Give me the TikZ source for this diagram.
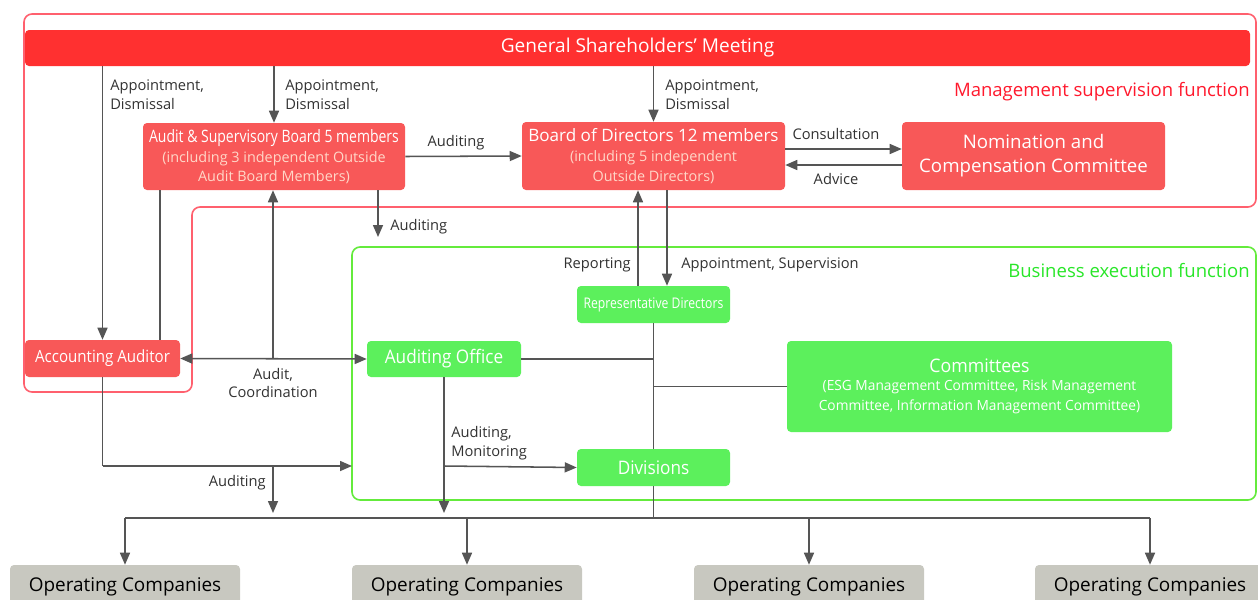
\documentclass[tikz,border=0pt]{standalone}
\usepackage{fontspec}
\usepackage{graphicx}
\setmainfont{Open Sans}
\usetikzlibrary{arrows.meta}
\newdimen\pxu \pxu=0.75pt
\definecolor{gsmred}{RGB}{255,48,48}
\definecolor{boxred}{RGB}{248,88,88}
\definecolor{boxgreen}{RGB}{92,240,92}
\definecolor{boxgray}{RGB}{200,200,192}
\definecolor{linegray}{RGB}{85,85,85}
\definecolor{regred}{RGB}{255,96,110}
\definecolor{reggreen}{RGB}{100,235,60}
\definecolor{txtred}{RGB}{255,25,45}
\definecolor{txtgreen}{RGB}{40,230,40}
\definecolor{subpink}{RGB}{255,215,200}
\definecolor{labelgray}{RGB}{50,50,50}
\newcommand{\fLbl}{\fontsize{11}{14.2}\selectfont}
\newcommand{\fTitle}{\fontsize{12.8}{15}\selectfont}
\newcommand{\fSub}{\fontsize{10.8}{14.2}\selectfont}
\begin{document}
\begin{tikzpicture}[x=0.75pt,y=-0.75pt,
  basebox/.style={rectangle, rounded corners=4\pxu, inner sep=0pt, align=center, text=white},
  gsmbox/.style={basebox, fill=gsmred},
  redbox/.style={basebox, fill=boxred},
  greenbox/.style={basebox, fill=boxgreen},
  graybox/.style={basebox, fill=boxgray, text=black},
  conn/.style={draw=linegray, line width=1.15pt},
  arr/.style={conn, -{Triangle[length=9pt,width=7.5pt]}},
  arrtwo/.style={conn, {Triangle[length=9pt,width=7.5pt]}-{Triangle[length=9pt,width=7.5pt]}},
  lbl/.style={inner sep=0pt, text=labelgray, font=\fLbl},
  region/.style={line width=1.2pt, rounded corners=8\pxu}
]
\useasboundingbox (0,0) rectangle (1258,600);
\clip (0,0) rectangle (1258,600);
\fill[white] (0,0) rectangle (1258,600);

% regions
\draw[region, draw=regred] (1256,207) -- (192,207) -- (192,392) -- (24,392) -- (24,14) -- (1256,14) -- cycle;
\draw[region, draw=reggreen] (352,247) rectangle (1256,500);

% nodes
\node[gsmbox, minimum width=1225\pxu, minimum height=36\pxu, font=\fontsize{14.3}{16}\selectfont] (gsm) at (637.5,48) {General Shareholders' Meeting};
\node[redbox, minimum width=262\pxu, minimum height=67\pxu] (asb) at (274,156.5)
  {\fTitle\scalebox{0.82}[1]{Audit \& Supervisory Board 5 members}\\[3pt]
   \fSub\color{subpink}(including 3 independent Outside\\[2.5pt]
   \fSub\color{subpink}Audit Board Members)};
\node[redbox, minimum width=263\pxu, minimum height=68\pxu] (bod) at (653.5,156)
  {\fTitle Board of Directors 12 members\\[3pt]
   \fSub\color{subpink}(including 5 independent\\[2.5pt]
   \fSub\color{subpink}Outside Directors)};
\node[redbox, minimum width=263\pxu, minimum height=68\pxu, font=\fontsize{14}{18}\selectfont] (ncc) at (1033.5,156)
  {Nomination and\\Compensation Committee};
\node[redbox, minimum width=155\pxu, minimum height=37\pxu, font=\fontsize{12.6}{14}\selectfont] (aa) at (102.5,358.5) {\scalebox{0.9}[1]{Accounting Auditor}};
\node[greenbox, minimum width=154\pxu, minimum height=36\pxu, font=\fontsize{14}{16}\selectfont] (ao) at (444,359) {\scalebox{0.92}[1]{Auditing Office}};
\node[greenbox, minimum width=153\pxu, minimum height=37\pxu, font=\fontsize{11}{14}\selectfont] (rd) at (653.5,304.5) {\scalebox{0.83}[1]{Representative Directors}};
\node[greenbox, minimum width=385\pxu, minimum height=91\pxu] (cm) at (979.5,386.5)
  {\fontsize{14}{17}\selectfont\scalebox{0.95}[1]{Committees}\\[1.5pt]
   \fontsize{10.5}{14.5}\selectfont\scalebox{0.98}[1]{(ESG Management Committee, Risk Management}\\[3pt]
   \fontsize{10.5}{14.5}\selectfont\scalebox{0.98}[1]{Committee, Information Management Committee)}};
\node[greenbox, minimum width=153\pxu, minimum height=37\pxu, font=\fontsize{14}{16}\selectfont] (dv) at (653.5,467.5) {\scalebox{0.92}[1]{Divisions}};
\node[graybox, minimum width=230\pxu, minimum height=44\pxu, font=\fontsize{14.2}{16}\selectfont] (oca) at (125,587) {Operating Companies};
\node[graybox, minimum width=230\pxu, minimum height=44\pxu, font=\fontsize{14.2}{16}\selectfont] (ocb) at (467,587) {Operating Companies};
\node[graybox, minimum width=230\pxu, minimum height=44\pxu, font=\fontsize{14.2}{16}\selectfont] (occ) at (809,587) {Operating Companies};
\node[graybox, minimum width=230\pxu, minimum height=44\pxu, font=\fontsize{14.2}{16}\selectfont] (ocd) at (1150,587) {Operating Companies};

% coordinates
\coordinate (jc) at (273,358.5);
\coordinate (a3) at (378,237);
\coordinate (aaturn) at (102.5,466);
\coordinate (gl) at (352,466);
\coordinate (jb) at (273,466);
\coordinate (jbend) at (273,513);
\coordinate (aoturn) at (444,466);
\coordinate (aoend) at (444,513);
\coordinate (busl) at (125,518);
\coordinate (busr) at (1150,518);
\coordinate (busm) at (653.5,518);

% connectors
\draw[arr] (gsm.south -| aa.north) -- (aa.north);
\draw[arr] (gsm.south -| asb.north) -- (asb.north);
\draw[arr] (gsm.south -| bod.north) -- (bod.north);
\draw[arr] (asb.east) -- (bod.west);
\draw[arr] (bod.east |- 0,149) -- (ncc.west |- 0,149);
\draw[arr] (ncc.west |- 0,165) -- (bod.east |- 0,165);
\draw[conn] (asb.south -| 160,0) -- (aa.north -| 160,0);
\draw[arr] (jc) -- (asb.south -| jc);
\draw[arrtwo] (aa.east) -- (ao.west);
\draw[arr] (asb.south -| a3) -- (a3);
\draw[arr] (bod.south -| 667,0) -- (rd.north -| 667,0);
\draw[arr] (rd.north -| 638,0) -- (bod.south -| 638,0);
\draw[conn] (rd.south) -- (dv.north);
\draw[conn] (dv.south) -- (busm);
\draw[conn] (ao.east) -- (ao.east -| rd.south);
\draw[conn] (cm.west) -- (cm.west -| rd.south);
\draw[conn] (aa.south) -- (aaturn);
\draw[arr] (aaturn) -- (gl);
\draw[arr] (jb) -- (jbend);
\draw[arr] (ao.south) -- (aoend);
\draw[arr] (aoturn) -- (dv.west);
\draw[conn] (busl) -- (busr);
\draw[arr] (busl) -- (oca.north);
\draw[arr] (busm -| ocb.north) -- (ocb.north);
\draw[arr] (busm -| occ.north) -- (occ.north);
\draw[arr] (busr) -- (ocd.north);

% labels
\node[lbl, anchor=west, align=left] (l1) at (110,94.5) {Appointment,\\Dismissal};
\node[lbl, anchor=west, align=left] (l2) at (285,94.5) {Appointment,\\Dismissal};
\node[lbl, anchor=west, align=left] (l3) at (665,94.5) {Appointment,\\Dismissal};
\node[lbl] (l4) at (456,143) {Auditing};
\node[lbl] (l5) at (836,134) {Consultation};
\node[lbl] (l6) at (836,179) {Advice};
\node[lbl, anchor=west] (l7) at (390,227) {Auditing};
\node[lbl, anchor=east] (l8) at (631,265) {Reporting};
\node[lbl, anchor=west] (l9) at (681,265) {Appointment, Supervision};
\node[lbl, align=center] (l10) at (273,383) {Audit,\\Coordination};
\node[lbl, anchor=west, align=left] (l11) at (451,443.5) {Auditing,\\Monitoring};
\node[lbl, anchor=east] (l12) at (266,483) {Auditing};
\node[inner sep=0pt, anchor=east, text=txtred, font=\fontsize{13.9}{16}\selectfont] (t1) at (1250,92) {Management supervision function};
\node[inner sep=0pt, anchor=east, text=txtgreen, font=\fontsize{13.9}{16}\selectfont] (t2) at (1250,270) {Business execution function};
\end{tikzpicture}
\end{document}
